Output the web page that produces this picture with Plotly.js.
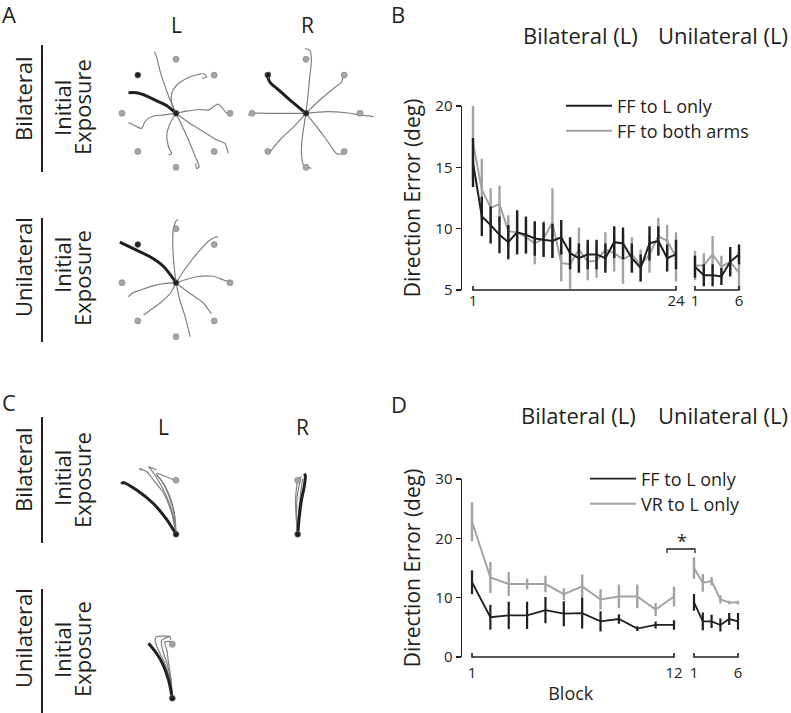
<!DOCTYPE html>
<html>
<head>
<meta charset="utf-8">
<script src="https://cdn.plot.ly/plotly-3.0.1.min.js"></script>
<style>
html, body { margin: 0; padding: 0; background: #fff; }
#fig { width: 791px; height: 713px; }
</style>
</head>
<body>
<div id="fig"></div>
<script>
// ---------- panel B: direction error (deg), bilateral blocks 1-24 then unilateral 1-6
var bBlocksBi = [1,2,3,4,5,6,7,8,9,10,11,12,13,14,15,16,17,18,19,20,21,22,23,24];
var bBlocksUni = [1,2,3,4,5,6];
var bFFLBi    = [15.4,11.0,10.3,9.5,8.9,9.7,9.5,9.2,9.1,9.0,9.3,8.0,7.6,7.9,7.9,7.6,8.9,8.8,7.6,6.8,8.8,9.0,7.6,7.9];
var bFFLBiErr = [2.0,1.6,1.5,1.5,1.4,1.8,1.5,1.4,1.4,1.4,1.4,1.3,1.2,1.2,1.2,1.2,1.3,1.3,1.2,1.1,1.4,1.2,1.1,1.2];
var bFFBothBi    = [17.0,13.2,11.7,12.0,9.8,9.7,9.3,8.8,9.2,10.5,7.2,7.1,8.3,7.3,7.4,8.3,8.0,7.5,7.9,7.0,7.9,9.4,9.0,7.7];
var bFFBothBiErr = [3.0,2.5,1.6,1.5,1.3,1.5,1.4,1.7,1.4,2.8,1.5,2.0,1.8,1.5,1.4,1.4,1.5,2.0,1.4,1.3,1.5,1.5,1.3,2.0];
var bFFLUni    = [6.9,6.2,6.2,6.1,7.3,7.9];
var bFFLUniErr = [0.9,0.9,0.9,0.7,1.2,0.8];
var bFFBothUni    = [7.0,7.0,7.9,6.9,7.3,6.4];
var bFFBothUniErr = [1.2,1.0,1.5,0.9,1.0,1.5];

// ---------- panel D: direction error (deg), bilateral blocks 1-12 then unilateral 1-6
var dBlocksBi = [1,2,3,4,5,6,7,8,9,10,11,12];
var dBlocksUni = [1,2,3,4,5,6];
var dFFLBi    = [12.6,6.7,7.0,7.0,7.9,7.3,7.4,6.0,6.4,4.8,5.4,5.4];
var dFFLBiErr = [2.0,2.1,2.3,2.3,2.2,2.1,2.6,1.7,0.8,0.4,0.6,0.8];
var dVRLBi    = [22.8,13.4,12.3,12.3,12.3,10.6,11.9,9.7,10.2,10.2,8.0,10.2];
var dVRLBiErr = [3.3,2.6,2.0,0.9,1.4,1.0,2.0,1.7,2.0,2.0,1.1,1.7];
var dFFLUni    = [9.2,6.0,6.0,5.4,6.4,6.0];
var dFFLUniErr = [1.4,1.5,1.1,1.1,1.0,1.4];
var dVRLUni    = [15.0,12.5,12.8,9.7,9.2,9.2];
var dVRLUniErr = [1.8,1.5,0.7,0.7,0.3,0.3];

// ---------- panels A & C: hand trajectories (cm, start at 0,0)
var aTargetX = [10, 7.07, 0, -7.07, -10, -7.07, 0, 7.07];
var aTargetY = [0, 7.07, 10, 7.07, 0, -7.07, -10, -7.07];
var aTargetColor = ['#a6a6a6','#a6a6a6','#a6a6a6','#231f20','#a6a6a6','#a6a6a6','#a6a6a6','#a6a6a6'];
var cTargetX = [0];
var cTargetY = [10];

var aBiLBlack = [[0,0],[-1.7,1.4],[-3.6,2.3],[-5.4,3.2],[-7.3,3.8],[-8.8,3.8]];
var aBiLGray = [
  [[0,0],[-1.1,2.5],[-2.0,4.9],[-3.0,8.0],[-3.6,10.5],[-4.0,11.4]],
  [[0,0],[-0.8,1.9],[-0.8,3.7],[0.1,5.2],[2.0,6.5],[3.8,7.1],[5.1,7.3],[5.7,6.7],[4.8,6.5]],
  [[0,0],[2.0,0.4],[4.4,0.7],[6.0,0.6],[6.9,1.2],[7.8,1.7],[8.5,1.1],[9.4,0],[10.3,-0.3]],
  [[0,0],[2.6,-1.9],[5.1,-3.4],[7.5,-4.9],[9.1,-5.6],[9.4,-6.5],[9.7,-7.4]],
  [[0,0],[1.2,-2.5],[2.3,-4.9],[3.2,-7.1],[3.8,-8.6],[4.3,-9.9],[3.8,-10.2],[3.7,-9.3]],
  [[0,0],[-1.1,-1.9],[-1.7,-4.0],[-1.4,-6.2],[-0.8,-7.5],[-1.4,-7.7]],
  [[0,0],[-2.3,-0.3],[-4.5,-0.6],[-5.7,-1.5],[-6.4,-2.8],[-7.6,-2.3],[-8.8,-1.7]]
];
var aBiRBlack = [[0,0],[-3.0,2.5],[-5.4,4.6],[-6.7,5.8],[-7.1,7.1],[-6.6,7.5]];
var aBiRGray = [
  [[0,0],[0.4,3.7],[0.7,6.8],[1.0,9.9],[0.7,11.7],[-0.2,12.0]],
  [[0,0],[2.6,2.5],[5.1,4.6],[6.6,5.8],[6.9,7.0],[7.2,7.3]],
  [[0,0],[3.8,0.3],[7.5,0.1],[10.0,-0.3],[12.5,-0.6]],
  [[0,0],[2.0,-2.5],[3.8,-4.9],[5.1,-6.8],[5.7,-7.5],[6.9,-7.5]],
  [[0,0],[-0.4,-2.5],[-0.8,-5.5],[-0.8,-8.0],[-0.5,-9.5],[0.1,-9.9],[1.0,-10.2]],
  [[0,0],[-2.3,-2.5],[-4.8,-4.9],[-6.4,-6.8],[-7.0,-7.5]],
  [[0,0],[-4.2,0],[-7.3,0],[-9.8,0],[-10.7,-0.3]]
];
var aUniLBlack = [[0,0],[-2.3,3.0],[-4.8,4.8],[-7.9,6.3],[-10.4,7.5]];
var aUniLGray = [
  [[0,0],[-0.4,3.6],[-0.6,7.3],[-0.5,9.8],[0,11.4],[0.4,11.7]],
  [[0,0],[2.0,3.0],[4.4,6.0],[6.3,7.9],[7.5,8.5],[7.8,8.4]],
  [[0,0],[3.8,1.1],[6.9,1.2],[8.8,0.5],[10.0,0],[10.3,-0.4]],
  [[0,0],[2.6,-2.0],[5.1,-3.8],[6.3,-5.4],[6.6,-5.7]],
  [[0,0],[0.7,-3.2],[1.7,-6.3],[2.3,-8.7],[2.6,-10.0]],
  [[0,0],[-1.1,-2.0],[-3.0,-3.8],[-4.8,-5.1],[-6.0,-6.0]],
  [[0,0],[-3.6,-0.4],[-6.7,-1.4],[-8.2,-2.0],[-8.8,-2.6]]
];
var cBiLBlack = [[0,0],[-1.7,2.7],[-4.2,5.7],[-7.3,8.2],[-9.8,9.6],[-10.1,9.3]];
var cBiLGray = [
  [[0,0],[-0.8,3.9],[-2.3,7.6],[-4.2,10.1],[-5.4,11.6],[-6.8,12.2],[-6.4,11.8]],
  [[0,0],[-0.5,3.3],[-1.7,6.9],[-3.3,10.0],[-4.8,12.2],[-5.1,12.5],[-3.6,11.9]],
  [[0,0],[-0.2,3.3],[-1.1,6.9],[-2.3,9.4],[-3.6,11.3],[-1.7,10.6],[-0.5,10.1]],
  [[0,0],[-0.4,3.9],[-1.4,7.3],[-2.6,9.8],[-3.6,11.0]]
];
var cBiRBlack = [[0,0],[0.3,3.3],[0.7,6.4],[1.2,8.8],[1.4,10.9],[1.2,11.2]];
var cBiRGray = [
  [[0,0],[-0.3,3.3],[-0.4,6.4],[-0.2,8.8],[0.1,10.4],[0.7,10.7]],
  [[0,0],[0.1,3.3],[0.4,6.4],[0.7,8.8],[0.9,10.3]],
  [[0,0],[-0.2,3.3],[-0.1,6.9],[0.3,9.3],[0.5,10.4],[-0.2,10.0]]
];
var cUniLBlack = [[0,0],[-0.7,3.4],[-1.7,6.2],[-2.9,8.3],[-4.4,10.2]];
var cUniLGray = [
  [[0,0],[-0.4,3.4],[-1.4,6.5],[-2.6,9.0],[-3.2,10.8],[-2.9,11.4],[-1.7,11.5],[-0.4,11.5]],
  [[0,0],[-0.3,3.4],[-1.0,6.5],[-1.8,8.9],[-2.0,10.7],[-1.4,11.1],[-0.4,11.4],[-0.3,10.8]],
  [[0,0],[-0.2,3.4],[-0.7,6.5],[-1.0,8.9],[-1.4,10.4],[0.2,10.4],[0.3,9.8]]
];

var W = 791, H = 713;
var INK = '#231f20', GREY = '#a3a3a3', TRAJ = '#808080';
var FONT = 'Open Sans, sans-serif';
function px(x) { return x / W; }
function py(y) { return 1 - y / H; }

// series trace with vertical error bars, no caps
function series(x, y, err, color, w, xa, ya, name, leg) {
    return {
        x: x, y: y, type: 'scatter', mode: 'lines', name: name,
        line: { color: color, width: w },
        error_y: { type: 'data', array: err, visible: true, width: 0, thickness: w + 0.4, color: color },
        xaxis: xa, yaxis: ya, legend: leg || 'legend', showlegend: !!leg, hoverinfo: 'skip'
    };
}

function curveTrace(c, color, w, xa, ya) {
    return {
        x: c.map(function (p) { return p[0]; }), y: c.map(function (p) { return p[1]; }),
        type: 'scatter', mode: 'lines', line: { color: color, width: w, shape: 'spline', smoothing: 0.8 },
        xaxis: xa, yaxis: ya, showlegend: false, hoverinfo: 'skip'
    };
}

function dots(x, y, color, size, xa, ya) {
    return {
        x: x, y: y, type: 'scatter', mode: 'markers',
        marker: { color: color, size: size, line: { color: '#7a7a7a', width: 0.6 } },
        xaxis: xa, yaxis: ya, showlegend: false, hoverinfo: 'skip', cliponaxis: false
    };
}

var data = [];
// panel B (gray drawn first so black lies on top); one legend per entry
data.push(series(bBlocksBi, bFFBothBi, bFFBothBiErr, GREY, 2, 'x', 'y', 'FF to both arms', 'legend2'));
data.push(series(bBlocksBi, bFFLBi, bFFLBiErr, INK, 2, 'x', 'y', 'FF to L only', 'legend'));
data.push(series(bBlocksUni, bFFBothUni, bFFBothUniErr, GREY, 2, 'x2', 'y', 'FF to both arms'));
data.push(series(bBlocksUni, bFFLUni, bFFLUniErr, INK, 2, 'x2', 'y', 'FF to L only'));
// panel D
data.push(series(dBlocksBi, dVRLBi, dVRLBiErr, GREY, 2, 'x3', 'y2', 'VR to L only', 'legend4'));
data.push(series(dBlocksBi, dFFLBi, dFFLBiErr, INK, 1.8, 'x3', 'y2', 'FF to L only', 'legend3'));
data.push(series(dBlocksUni, dVRLUni, dVRLUniErr, GREY, 2, 'x4', 'y2', 'VR to L only'));
data.push(series(dBlocksUni, dFFLUni, dFFLUniErr, INK, 1.8, 'x4', 'y2', 'FF to L only'));

// trajectory panels
var trajPanels = [
    { gray: aBiLGray, black: aBiLBlack, tx: aTargetX, ty: aTargetY, tc: aTargetColor, xa: 'x5', ya: 'y3' },
    { gray: aBiRGray, black: aBiRBlack, tx: aTargetX, ty: aTargetY, tc: aTargetColor, xa: 'x6', ya: 'y4' },
    { gray: aUniLGray, black: aUniLBlack, tx: aTargetX, ty: aTargetY, tc: aTargetColor, xa: 'x7', ya: 'y5' },
    { gray: cBiLGray, black: cBiLBlack, tx: cTargetX, ty: cTargetY, tc: ['#a6a6a6'], xa: 'x8', ya: 'y6' },
    { gray: cBiRGray, black: cBiRBlack, tx: cTargetX, ty: cTargetY, tc: ['#a6a6a6'], xa: 'x9', ya: 'y7' },
    { gray: cUniLGray, black: cUniLBlack, tx: cTargetX, ty: cTargetY, tc: ['#a6a6a6'], xa: 'x10', ya: 'y8' }
];
trajPanels.forEach(function (p) {
    p.gray.forEach(function (c) { data.push(curveTrace(c, TRAJ, 1.2, p.xa, p.ya)); });
    data.push(curveTrace(p.black, INK, 3, p.xa, p.ya));
    data.push(dots(p.tx, p.ty, p.tc, 6, p.xa, p.ya));
    data.push(dots([0], [0], INK, 6, p.xa, p.ya));
});

// ---------- layout
var tickFont = { size: 15, color: INK, family: FONT };
function segAxis(d0, d1, r, vals, anchor, standoff) {
    return {
        domain: [px(d0), px(d1)], range: r, anchor: anchor, showline: false, showgrid: false, zeroline: false,
        tickmode: 'array', tickvals: vals, ticks: '', tickfont: tickFont, fixedrange: true,
        ticklabelstandoff: standoff || 0
    };
}
function valAxis(y0, y1, r, vals, anchor) {
    return {
        domain: [py(y0), py(y1)], range: r, anchor: anchor, showline: true, linecolor: INK, linewidth: 1.5,
        ticks: 'outside', ticklen: 5, tickwidth: 1.5, tickcolor: INK, tickmode: 'array', tickvals: vals,
        showgrid: false, zeroline: false, tickfont: tickFont, fixedrange: true,
        title: { text: 'Direction Error (deg)', font: { size: 21, color: INK, family: FONT }, standoff: 9 }
    };
}
// drawing axes at 5.4 px per cm, origin at pixel (cx, cy)
function drawAxes(cx, cy, xr, yr, anchorX, anchorY) {
    var s = 5.4;
    return [
        { domain: [px(cx + xr[0] * s), px(cx + xr[1] * s)], range: xr, visible: false, anchor: anchorY, fixedrange: true },
        { domain: [py(cy - yr[0] * s), py(cy - yr[1] * s)], range: yr, visible: false, anchor: anchorX, fixedrange: true }
    ];
}
function legendAt(x, y) {
    return { x: px(x), y: py(y), xanchor: 'left', yanchor: 'middle', itemwidth: 46, bgcolor: 'rgba(0,0,0,0)',
             font: { size: 18, color: INK, family: FONT } };
}

var layout = {
    width: W, height: H, margin: { l: 0, r: 0, t: 0, b: 0 },
    paper_bgcolor: '#fff', plot_bgcolor: 'rgba(0,0,0,0)',
    font: { family: FONT, color: INK },
    xaxis: segAxis(462, 680.4, [-0.246, 24.5], [1, 24], 'y'),
    xaxis2: segAxis(690.6, 743.4, [0.5, 6.5], [1, 6], 'y'),
    yaxis: valAxis(290, 106, [5, 20], [5, 10, 15, 20], 'x'),
    xaxis3: segAxis(462, 679.5, [0.455, 12.3], [1, 12], 'y2', 5),
    xaxis4: segAxis(689.6, 742.4, [0.5, 6.5], [1, 6], 'y2', 5),
    yaxis2: valAxis(657, 479, [0, 30], [0, 10, 20, 30], 'x3'),
    legend: legendAt(561, 106),
    legend2: legendAt(561, 131),
    legend3: legendAt(585, 479),
    legend4: legendAt(585, 504),
    showlegend: true,
    shapes: [], annotations: []
};
layout.xaxis3.title = { text: 'Block', font: { size: 18, color: INK, family: FONT }, standoff: 6 };

var dA = [
    drawAxes(176, 113.3, [-12, 12], [-12.5, 12.5], 'x5', 'y3'),
    drawAxes(306, 113.3, [-12.5, 13], [-12.5, 12.5], 'x6', 'y4'),
    drawAxes(176, 282.7, [-12, 12], [-12.5, 12.5], 'x7', 'y5'),
    drawAxes(176, 534.3, [-12, 6], [-2, 14], 'x8', 'y6'),
    drawAxes(297.7, 534.3, [-5, 5], [-2, 14], 'x9', 'y7'),
    drawAxes(172.3, 698.3, [-7, 5], [-2, 13.5], 'x10', 'y8')
];
dA.forEach(function (pair, i) {
    layout['xaxis' + (i + 5)] = pair[0];
    layout['yaxis' + (i + 3)] = pair[1];
});

// segment brackets under the block axes (from first to last block of each series)
function bracket(xref, x0, x1, yPix) {
    var lift = 4 / H, yb = py(yPix);
    return { type: 'path', xref: xref, yref: 'paper', line: { color: INK, width: 1.6 },
             path: 'M' + x0 + ',' + (yb + lift) + ' L' + x0 + ',' + yb + ' L' + x1 + ',' + yb + ' L' + x1 + ',' + (yb + lift) };
}
layout.shapes.push(bracket('x', bBlocksBi[0], bBlocksBi[bBlocksBi.length - 1], 290));
layout.shapes.push(bracket('x2', bBlocksUni[0], bBlocksUni[bBlocksUni.length - 1], 290));
layout.shapes.push(bracket('x3', dBlocksBi[0], dBlocksBi[dBlocksBi.length - 1], 657));
layout.shapes.push(bracket('x4', dBlocksUni[0], dBlocksUni[dBlocksUni.length - 1], 657));
// significance bracket in D
layout.shapes.push({ type: 'path', xref: 'paper', yref: 'paper', line: { color: INK, width: 1.3 },
    path: 'M' + px(667) + ',' + py(553) + ' L' + px(667) + ',' + py(549) + ' L' + px(695) + ',' + py(549) + ' L' + px(695) + ',' + py(553) });

// separator lines next to row labels
[[45, 172], [218, 342], [417, 543], [589, 713]].forEach(function (s) {
    layout.shapes.push({ type: 'line', xref: 'paper', yref: 'paper', x0: px(42), x1: px(42), y0: py(s[0]), y1: py(s[1]),
                         line: { color: INK, width: 2 } });
});

function label(text, x, y, size, angle, xanchor) {
    layout.annotations.push({ text: text, x: px(x), y: py(y), xref: 'paper', yref: 'paper', showarrow: false,
        xanchor: xanchor || 'center', yanchor: 'middle', textangle: angle || 0,
        font: { size: size, color: INK, family: FONT } });
}
label('A', 0, 14, 22, 0, 'left');
label('B', 389, 14, 22, 0, 'left');
label('C', 0, 402, 22, 0, 'left');
label('D', 389, 404, 22, 0, 'left');
label('L', 176, 25, 21);
label('R', 307, 25, 21);
label('L', 163, 427, 21);
label('R', 302, 427, 21);
label('Bilateral (L)', 580, 35, 22);
label('Unilateral (L)', 723, 35, 22);
label('Bilateral (L)', 578, 415, 22);
label('Unilateral (L)', 723, 415, 22);
label('*', 682, 541, 18);
// row labels
[[99, 108, 107, 'Bilateral'], [267, 265, 278, 'Unilateral'], [470, 478, 480, 'Bilateral'], [638, 650, 649, 'Unilateral']].forEach(function (r) {
    label(r[3], 23, r[0], 22, -90);
    label('Initial', 62, r[1], 22, -90);
    label('Exposure', 82, r[2], 22, -90);
});

Plotly.newPlot('fig', data, layout, { staticPlot: true, displayModeBar: false });
</script>
</body>
</html>
